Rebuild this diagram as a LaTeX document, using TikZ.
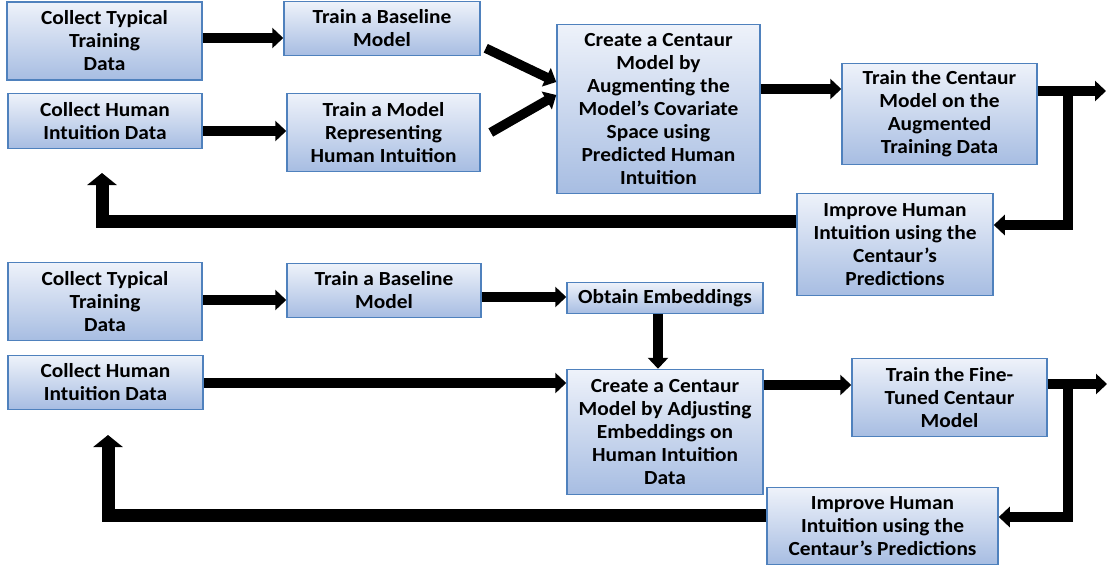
\documentclass[tikz,border=0pt]{standalone}
\usepackage{fontspec}
\setmainfont{Carlito}
\newfontfamily\boxfont[FakeStretch=1.07]{Carlito}
\usetikzlibrary{arrows.meta,calc}
\definecolor{boxedge}{HTML}{4F81BD}
\definecolor{boxtop}{HTML}{EEF2FA}
\definecolor{boxbot}{HTML}{A7BDE2}
\tikzset{
  box/.style={draw=boxedge, line width=1.5pt, top color=boxtop, bottom color=boxbot,
    align=center, font=\boxfont\bfseries\fontsize{20}{23}\selectfont, inner sep=0pt},
  arr/.style={line width=9.5pt, draw=black, line join=miter, -{Triangle[width=20pt,length=11pt]}},
  backarr/.style={line width=13pt, draw=black, line join=miter, -{Triangle[width=29pt,length=12pt]}}
}
\begin{document}
\begin{tikzpicture}[x=1pt,y=-1pt]
\useasboundingbox (0,0) rectangle (1110,571);
% top section
\node[box, minimum width=195pt, minimum height=78pt] (A1) at (104.5,41) {Collect Typical\\Training\\ Data};
\node[box, minimum width=194pt, minimum height=55pt] (A2) at (105,121) {Collect Human\\Intuition Data};
\node[box, minimum width=196pt, minimum height=54pt] (B1) at (382,28.5) {Train a Baseline\\Model};
\node[box, minimum width=193pt, minimum height=78pt] (B2) at (383.5,132.5) {Train a Model\\Representing\\Human Intuition};
\node[box, minimum width=203pt, minimum height=169pt] (C) at (658.5,109) {Create a Centaur\\Model by\\Augmenting the\\Model’s Covariate\\Space using\\Predicted Human\\Intuition};
\node[box, minimum width=195pt, minimum height=101pt] (D) at (939.5,114) {Train the Centaur\\Model on the\\Augmented\\Training Data};
\node[box, minimum width=196pt, minimum height=102pt] (E) at (895,244.5) {Improve Human\\Intuition using the\\Centaur’s\\Predictions};
% bottom section
\node[box, minimum width=194pt, minimum height=78pt] (F1) at (105,301.5) {Collect Typical\\Training\\ Data};
\node[box, minimum width=195pt, minimum height=54pt] (F2) at (105.5,382.5) {Collect Human\\Intuition Data};
\node[box, minimum width=194pt, minimum height=54pt] (G) at (384,290.5) {Train a Baseline\\Model};
\node[box, minimum width=196pt, minimum height=31pt] (H) at (665,298) {Obtain Embeddings};
\node[box, minimum width=196pt, minimum height=125pt] (I) at (665,432) {Create a Centaur\\Model by Adjusting\\Embeddings on\\Human Intuition\\Data};
\node[box, minimum width=195pt, minimum height=78pt] (J) at (949.5,397.5) {Train the Fine-\\Tuned Centaur\\Model};
\node[box, minimum width=231pt, minimum height=77pt] (K) at (882.5,526) {Improve Human\\Intuition using the\\Centaur’s Predictions};
% coordinates
\coordinate (a1o) at ([yshift=3pt]A1.east);
\coordinate (a2o) at ([yshift=-10pt]A2.east);
\coordinate (b1o) at ($(B1.south east)+(5,-8)$);
\coordinate (b2o) at ([xshift=10pt]B2.east);
\coordinate (c1i) at ([yshift=27pt]C.west);
\coordinate (c2i) at ([yshift=14pt]C.west);
\coordinate (co) at ([yshift=20pt]C.east);
\coordinate (dout) at ([yshift=23pt]D.east);
\coordinate (out1) at (1106,91);
\coordinate (j1) at (1068,91);
\coordinate (ein) at ([yshift=19.5pt]E.east);
\coordinate (eout) at ([yshift=23.5pt]E.west);
\coordinate (back1) at (102,173);
\coordinate (f1o) at ([yshift=1.5pt]F1.east);
\coordinate (go) at ([yshift=-6.5pt]G.east);
\coordinate (ho) at ([xshift=-7pt]H.south);
\coordinate (f2o) at ([yshift=-0.5pt]F2.east);
\coordinate (io) at ([yshift=47pt]I.east);
\coordinate (jout) at ([yshift=13.5pt]J.east);
\coordinate (out2) at (1107,384);
\coordinate (j2) at (1068,384);
\coordinate (kin) at ([yshift=9pt]K.east);
\coordinate (kout) at ([yshift=11pt]K.west);
\coordinate (back2) at (108,435);
% top arrows
\draw[arr] (a1o) -- (a1o -| B1.west);
\draw[arr] (a2o) -- (a2o -| B2.west);
\draw[arr] (b1o) -- (c1i);
\draw[arr] (b2o) -- (c2i);
\draw[arr] (co) -- (co -| D.west);
\draw[arr] (dout) -- (out1);
\draw[arr] (j1) -- (j1 |- ein) -- (ein);
\draw[backarr] (eout) -- (eout -| back1) -- (back1);
% bottom arrows
\draw[arr] (f1o) -- (f1o -| G.west);
\draw[arr] (go) -- (go -| H.west);
\draw[arr] (ho) -- (ho |- I.north);
\draw[arr] (f2o) -- (f2o -| I.west);
\draw[arr] (io) -- (io -| J.west);
\draw[arr] (jout) -- (out2);
\draw[arr] (j2) -- (j2 |- kin) -- (kin);
\draw[backarr] (kout) -- (kout -| back2) -- (back2);
\end{tikzpicture}
\end{document}
